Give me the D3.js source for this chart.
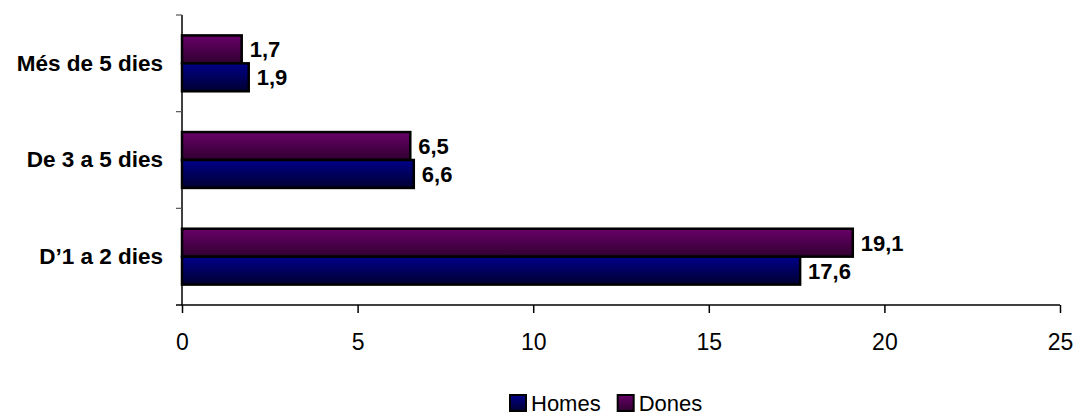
<!DOCTYPE html>
<html>
<head>
<meta charset="utf-8">
<script src="https://cdn.jsdelivr.net/npm/d3@7"></script>
<style>
  body { margin: 0; background: #fff; }
  text { font-family: Arial, "Liberation Sans", sans-serif; }
</style>
</head>
<body>
<div id="chart"></div>
<script>
// data
var categories = ["Més de 5 dies", "De 3 a 5 dies", "D\u20191 a 2 dies"];
var seriesNames = ["Homes", "Dones"];
var homesValues = [1.9, 6.6, 17.6];
var donesValues = [1.7, 6.5, 19.1];
var xTicks = [0, 5, 10, 15, 20, 25];

var chartW = 1077, chartH = 417;
var plotLeft = 182, plotRight = 1060, plotTop = 15, plotBottom = 305;

var svg = d3.select("#chart").append("svg")
    .attr("width", chartW)
    .attr("height", chartH);

// gradients for the bars
var defs = svg.append("defs");
function grad(id, c1, c2) {
  var g = defs.append("linearGradient").attr("id", id)
      .attr("x1", 0).attr("y1", 0).attr("x2", 0).attr("y2", 1);
  g.append("stop").attr("offset", "0%").attr("stop-color", c1);
  g.append("stop").attr("offset", "100%").attr("stop-color", c2);
}
grad("gHomes", "#00008a", "#000030");
grad("gDones", "#680068", "#300030");
var fills = { Homes: "url(#gHomes)", Dones: "url(#gDones)" };

var x = d3.scaleLinear().domain([0, 25]).range([plotLeft, plotRight]);
var y = d3.scaleBand().domain(categories).range([plotTop, plotBottom]);
// Dones above Homes inside each band
var inner = d3.scaleBand().domain(["Dones", "Homes"])
    .range([0, y.bandwidth()]).paddingInner(0).paddingOuter(0.73);

var rows = categories.map(function (c, i) {
  return { cat: c, Homes: homesValues[i], Dones: donesValues[i] };
});

// x axis
var xAxis = svg.append("g")
    .attr("transform", "translate(0," + plotBottom + ")")
    .call(d3.axisBottom(x).tickValues(xTicks).tickSize(8).tickPadding(21)
      .tickFormat(d3.format("d")));
xAxis.select(".domain").attr("stroke", "#000").attr("stroke-width", 1.5)
    .attr("d", "M" + (plotLeft - 6) + ",0H" + plotRight);
xAxis.selectAll(".tick line").attr("stroke", "#000").attr("stroke-width", 1.5);
xAxis.selectAll("text").attr("font-size", 23).attr("fill", "#000")
    .attr("font-family", "Arial, 'Liberation Sans', sans-serif");

// y axis
var yAxis = svg.append("g")
    .attr("transform", "translate(" + plotLeft + ",0)")
    .call(d3.axisLeft(y).tickSize(0).tickPadding(19));
yAxis.select(".domain").attr("stroke", "#000").attr("stroke-width", 1.5)
    .attr("d", "M0," + plotTop + "V" + plotBottom);
yAxis.selectAll("text").attr("font-size", 22.5).attr("font-weight", "bold")
    .attr("fill", "#000")
    .attr("font-family", "Arial, 'Liberation Sans', sans-serif");
// boundary ticks between categories
var bounds = [plotTop].concat(categories.map(function (c) { return y(c) + y.bandwidth(); }));
svg.append("g").selectAll("line").data(bounds.slice(0, 3)).enter().append("line")
    .attr("x1", plotLeft - 6).attr("x2", plotLeft)
    .attr("y1", function (d) { return d; }).attr("y2", function (d) { return d; })
    .attr("stroke", "#555").attr("stroke-width", 1.2);

// bars
var groups = svg.append("g").selectAll("g").data(rows).enter().append("g")
    .attr("transform", function (d) { return "translate(0," + y(d.cat) + ")"; });

["Dones", "Homes"].forEach(function (s) {
  groups.append("rect")
      .attr("x", x(0))
      .attr("y", inner(s))
      .attr("width", function (d) { return x(d[s]) - x(0); })
      .attr("height", inner.bandwidth())
      .attr("fill", fills[s])
      .attr("stroke", "#000")
      .attr("stroke-width", 2.5);
  groups.append("text")
      .attr("x", function (d) { return x(d[s]) + 8; })
      .attr("y", inner(s) + inner.bandwidth() / 2)
      .attr("dy", "0.36em")
      .attr("font-size", 22)
      .attr("font-weight", "bold")
      .text(function (d) { return d3.format(".1f")(d[s]).replace(".", ","); });
});

// legend
var legend = svg.append("g").attr("transform", "translate(510,395)");
var lx = 0;
seriesNames.forEach(function (s) {
  var g = legend.append("g").attr("transform", "translate(" + lx + ",0)");
  g.append("rect").attr("x", 0).attr("y", 0).attr("width", 16).attr("height", 16)
      .attr("fill", fills[s]).attr("stroke", "#000").attr("stroke-width", 2);
  var t = g.append("text").attr("x", 21).attr("y", 16)
      .attr("font-size", 22).text(s);
  lx += 21 + t.node().getComputedTextLength() + 17;
});
</script>
</body>
</html>
